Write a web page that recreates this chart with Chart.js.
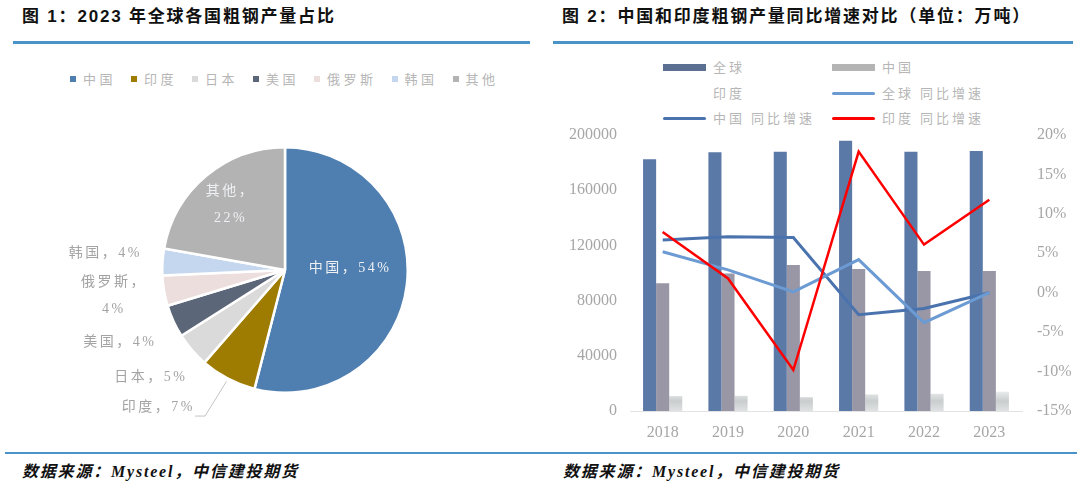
<!DOCTYPE html>
<html><head><meta charset="utf-8">
<script src="https://cdn.jsdelivr.net/npm/chart.js@4.4.1/dist/chart.umd.min.js"></script>
<style>
body{margin:0;width:1080px;height:494px;background:#fff;position:relative;overflow:hidden;font-family:"Noto Sans CJK SC",sans-serif;}
.title{position:absolute;top:6px;font-family:"Liberation Sans","Noto Sans CJK SC",sans-serif;font-size:17px;font-weight:bold;letter-spacing:1.8px;color:#111;line-height:22px;white-space:nowrap;}
.rule{position:absolute;height:3px;background:#4a93c9;}
.foot{position:absolute;top:461px;font-family:"Liberation Serif","Noto Sans CJK SC",serif;font-style:italic;font-weight:bold;font-size:16px;letter-spacing:1.8px;color:#111;line-height:22px;white-space:nowrap;}
.box{position:absolute;}
#pieLegend{position:absolute;left:70px;top:70px;height:18px;display:flex;align-items:center;}
#pieLegend .it{display:flex;align-items:center;margin-right:15px;}
#pieLegend .mk{width:6px;height:6px;margin-right:7px;}
.lt{font-size:13px;letter-spacing:3.5px;color:#b6b6b6;line-height:18px;white-space:nowrap;}
.rl{position:absolute;}
</style></head>
<body>
<div class="title" style="left:22px">图 1：2023 年全球各国粗钢产量占比</div>
<div class="title" style="left:562px">图 2：中国和印度粗钢产量同比增速对比（单位：万吨）</div>
<div class="rule" style="left:13px;top:41px;width:517px"></div>
<div class="rule" style="left:553px;top:41px;width:520px"></div>
<div class="rule" style="left:5px;top:452px;width:1072px;height:2px"></div>
<div class="foot" style="left:22px">数据来源：Mysteel，中信建投期货</div>
<div class="foot" style="left:563px">数据来源：Mysteel，中信建投期货</div>
<div id="pieLegend"></div>
<div id="barLegend"></div>
<div class="box" style="left:40px;top:100px;width:490px;height:340px"><canvas id="pie"></canvas></div>
<div class="box" style="left:553px;top:100px;width:527px;height:350px"><canvas id="combo"></canvas></div>
<script>
// ---- data: pie (2023 share, %) ----
const countries = ['中国','印度','日本','美国','俄罗斯','韩国','其他'];
const shares = [54.0, 7.4, 4.6, 4.3, 4.0, 3.5, 22.2];
const pieColors = ['#4f7fb1','#9e7c02','#dadada','#5b6679','#eddede','#c5d7ee','#b3b3b3'];

// ---- data: combo chart ----
const years = ['2018','2019','2020','2021','2022','2023'];
const globalOutput = [182400, 187500, 187900, 195900, 187900, 188400];
const chinaOutput = [92500, 99600, 105800, 102900, 101400, 101400];
const indiaOutput = [10800, 11000, 10000, 12000, 12500, 14000];
const globalYoY = [5.2, 2.9, 0.1, 4.2, -3.8, 0.0];
const chinaYoY = [6.7, 7.1, 7.0, -2.8, -2.0, 0.0];
const indiaYoY = [7.7, 1.8, -9.8, 17.9, 6.1, 11.8];
const leftTicks = {min: 0, max: 200000, step: 40000};
const rightTicks = {min: -15, max: 20, step: 5};

const serif = '"Liberation Serif","Noto Sans CJK SC",serif';
const tickGrey = '#a6a6a6';

// pie legend
const pl = document.getElementById('pieLegend');
countries.forEach((c, i) => {
  const it = document.createElement('div'); it.className = 'it';
  it.innerHTML = '<div class="mk" style="background:' + pieColors[i] + '"></div><span class="lt">' + c + '</span>';
  pl.appendChild(it);
});

// pie label plugin
const pieLabels = {
  id: 'pieLabels',
  afterDatasetsDraw(chart, args, opts) {
    const ctx = chart.ctx;
    const meta = chart.getDatasetMeta(0);
    const ds = chart.data.datasets[0];
    meta.data.forEach((arc, i) => {
      const p = arc.getProps(['x','y','startAngle','endAngle','outerRadius'], true);
      const cfg = opts.place[i];
      const midRaw = (p.startAngle + p.endAngle) / 2;
      const mid = midRaw + cfg.da * Math.PI / 180;
      const cx = p.x + Math.cos(mid) * p.outerRadius * cfg.f;
      const cy = p.y + Math.sin(mid) * p.outerRadius * cfg.f;
      const name = chart.data.labels[i];
      const pct = Math.round(ds.data[i]) + '%';
      const lines = cfg.wrap ? [name + '，', pct] : [name + '，' + pct];
      ctx.save();
      ctx.font = '14px ' + serif;
      if ('letterSpacing' in ctx) ctx.letterSpacing = '2.5px';
      ctx.fillStyle = cfg.inside ? '#eef0f4' : '#a3a3a3';
      ctx.textAlign = 'center';
      ctx.textBaseline = 'middle';
      const lh = 27;
      let maxW = 0;
      lines.forEach((t, k) => {
        ctx.fillText(t, cx, cy + (k - (lines.length - 1) / 2) * lh);
        maxW = Math.max(maxW, ctx.measureText(t).width);
      });
      if (cfg.leader) {
        const ax = p.x + Math.cos(midRaw) * (p.outerRadius + 3);
        const ay = p.y + Math.sin(midRaw) * (p.outerRadius + 3);
        const rx = cx + maxW / 2;
        ctx.strokeStyle = '#c4c4c4';
        ctx.lineWidth = 1;
        ctx.beginPath();
        ctx.moveTo(rx, cy + 9);
        ctx.lineTo(rx + 10, cy + 9);
        ctx.lineTo(ax, ay);
        ctx.stroke();
      }
      ctx.restore();
    });
  }
};

new Chart(document.getElementById('pie'), {
  type: 'pie',
  data: {
    labels: countries,
    datasets: [{ data: shares, backgroundColor: pieColors, borderColor: '#ffffff', borderWidth: 2.5 }]
  },
  options: {
    responsive: true, maintainAspectRatio: false, animation: false,
    layout: { padding: { left: 121, right: 121, top: 46, bottom: 46 } },
    plugins: {
      legend: { display: false }, tooltip: { enabled: false },
      pieLabels: { place: [
        { inside: true, f: 0.53, da: -9 },
        { f: 1.52, da: 15, leader: true },
        { f: 1.40, da: 2 },
        { f: 1.47, da: 1 },
        { f: 1.41, da: 1, wrap: true },
        { f: 1.47, da: 1.6 },
        { inside: true, f: 0.69, da: 0, wrap: true }
      ] }
    }
  },
  plugins: [pieLabels]
});

// combo chart
const indiaGrad = (context) => {
  const { chart } = context;
  const area = chart.chartArea;
  if (!area) return '#d0d4d4';
  const g = chart.ctx.createLinearGradient(0, area.bottom - 20, 0, area.bottom);
  g.addColorStop(0, '#eceeee');
  g.addColorStop(0.5, '#c9cdcd');
  g.addColorStop(1, '#dfe2e2');
  return g;
};

const datasets = [
  { type: 'bar', label: '全球', data: globalOutput, backgroundColor: '#5a79a6', yAxisID: 'y', order: 2, legendKind: 'bar', legendColor: '#5a6f91' },
  { type: 'bar', label: '中国', data: chinaOutput, backgroundColor: '#9996a6', yAxisID: 'y', order: 2, legendKind: 'bar', legendColor: '#b4b4b4' },
  { type: 'bar', label: '印度', data: indiaOutput, backgroundColor: indiaGrad, yAxisID: 'y', order: 2, legendKind: 'none', legendColor: '#ffffff' },
  { type: 'line', label: '全球 同比增速', data: globalYoY, borderColor: '#6c9bd3', borderWidth: 3, pointRadius: 0, yAxisID: 'y1', order: 1, legendKind: 'line', legendColor: '#6c9bd3' },
  { type: 'line', label: '中国 同比增速', data: chinaYoY, borderColor: '#4a73ae', borderWidth: 3, pointRadius: 0, yAxisID: 'y1', order: 1, legendKind: 'line', legendColor: '#4a73ae' },
  { type: 'line', label: '印度 同比增速', data: indiaYoY, borderColor: '#ff0000', borderWidth: 2.5, pointRadius: 0, yAxisID: 'y1', order: 0, legendKind: 'line', legendColor: '#ff0000' }
];

// bar legend (HTML)
const bl = document.getElementById('barLegend');
const colMk = [663, 832], colTx = [713, 882], rowY = [67, 93, 118];
datasets.forEach((d, i) => {
  const c = i % 2, r = Math.floor(i / 2);
  if (d.legendKind !== 'none') {
    const mk = document.createElement('div');
    mk.className = 'rl';
    const h = d.legendKind === 'bar' ? 7 : 3;
    mk.style.cssText = 'left:' + colMk[c] + 'px;top:' + (rowY[r] - h / 2) + 'px;width:43px;height:' + h + 'px;background:' + d.legendColor + ';border-radius:' + (d.legendKind === 'line' ? '2px' : '0');
    bl.appendChild(mk);
  }
  const tx = document.createElement('div');
  tx.className = 'rl lt';
  tx.style.cssText = 'left:' + colTx[c] + 'px;top:' + (rowY[r] - 9) + 'px;letter-spacing:3px;';
  tx.textContent = d.label;
  bl.appendChild(tx);
});

new Chart(document.getElementById('combo'), {
  data: { labels: years, datasets: datasets },
  options: {
    responsive: true, maintainAspectRatio: false, animation: false,
    layout: { padding: { top: 35, left: 0, right: 0, bottom: 0 } },
    datasets: { bar: { categoryPercentage: 0.6, barPercentage: 1.0 } },
    plugins: { legend: { display: false }, tooltip: { enabled: false } },
    scales: {
      x: {
        grid: { display: false, drawTicks: false },
        border: { display: true, color: '#e3e3e3', width: 1 },
        ticks: { font: { family: serif, size: 16 }, color: tickGrey, padding: 12 },
        afterFit(s) { s.height = 39; }
      },
      y: {
        position: 'left', min: leftTicks.min, max: leftTicks.max,
        grid: { display: false, drawTicks: false }, border: { display: false },
        ticks: { stepSize: leftTicks.step, font: { family: serif, size: 16 }, color: tickGrey, padding: 13, callback: v => String(v) },
        afterFit(s) { s.width = 77; }
      },
      y1: {
        position: 'right', min: rightTicks.min, max: rightTicks.max,
        grid: { display: false, drawTicks: false }, border: { display: false },
        ticks: { stepSize: rightTicks.step, font: { family: serif, size: 16 }, color: tickGrey, padding: 15, callback: v => v + '%' },
        afterFit(s) { s.width = 58; }
      }
    }
  }
});
</script>
</body></html>
